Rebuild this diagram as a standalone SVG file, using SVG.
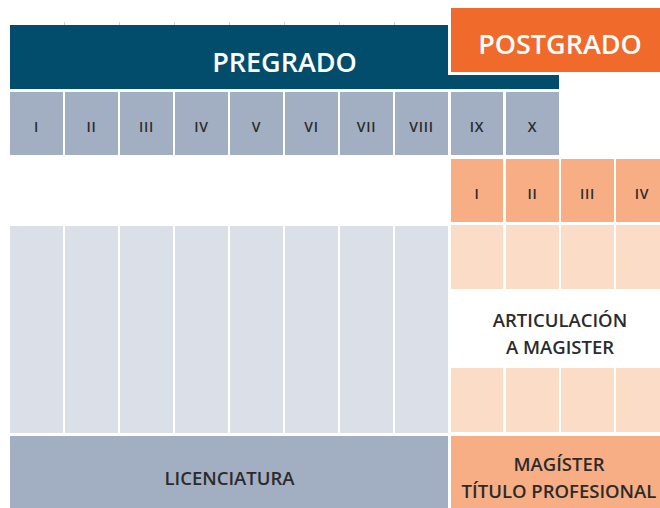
<svg xmlns="http://www.w3.org/2000/svg" width="660" height="508" viewBox="0 0 660 508">
<style>
.t{font-family:"Open Sans","Noto Sans","Liberation Sans",sans-serif;font-weight:600;text-anchor:middle}
.sem{fill:#a2afc2}
.psem{fill:#f7ae85}
.lt{fill:#dadfe8}
.plt{fill:#fbdcc6}
.lbl{font-size:14px;fill:#2b2b2b;letter-spacing:0.7px}
.big{font-size:27px;fill:#ffffff}
.mid{font-size:18.5px;fill:#2b2b2b}
.tick{stroke:#c9d2dc;stroke-width:1}
</style>
<rect width="660" height="508" fill="#ffffff"/>
<g id="ticks">
<line class="tick" x1="64.5" y1="22" x2="64.5" y2="25"/>
<line class="tick" x1="119.5" y1="22" x2="119.5" y2="25"/>
<line class="tick" x1="174.5" y1="22" x2="174.5" y2="25"/>
<line class="tick" x1="229.5" y1="22" x2="229.5" y2="25"/>
<line class="tick" x1="284.5" y1="22" x2="284.5" y2="25"/>
<line class="tick" x1="339.5" y1="22" x2="339.5" y2="25"/>
<line class="tick" x1="394.5" y1="22" x2="394.5" y2="25"/>
</g>
<g id="pregrado">
<rect x="10" y="25" width="549" height="64" fill="#024d6b"/>
<text class="t big" x="284.5" y="71.5">PREGRADO</text>
</g>
<g id="postgrado">
<rect x="448" y="5" width="215" height="70" fill="#ffffff"/>
<rect x="451" y="8" width="212" height="64" fill="#f06a2c"/>
<text class="t big" x="560" y="54">POSTGRADO</text>
</g>
<g id="semestres-pregrado">
<rect class="sem" x="10" y="92" width="53" height="63"/>
<rect class="sem" x="65" y="92" width="53" height="63"/>
<rect class="sem" x="120" y="92" width="53" height="63"/>
<rect class="sem" x="175" y="92" width="53" height="63"/>
<rect class="sem" x="230" y="92" width="53" height="63"/>
<rect class="sem" x="285" y="92" width="53" height="63"/>
<rect class="sem" x="340" y="92" width="53" height="63"/>
<rect class="sem" x="395" y="92" width="53" height="63"/>
<rect class="sem" x="451" y="92" width="52" height="63"/>
<rect class="sem" x="506" y="92" width="53" height="63"/>
<text class="t lbl" x="36.5" y="131.5">I</text>
<text class="t lbl" x="91.5" y="131.5">II</text>
<text class="t lbl" x="146.5" y="131.5">III</text>
<text class="t lbl" x="201.5" y="131.5">IV</text>
<text class="t lbl" x="256.5" y="131.5">V</text>
<text class="t lbl" x="311.5" y="131.5">VI</text>
<text class="t lbl" x="366.5" y="131.5">VII</text>
<text class="t lbl" x="421.5" y="131.5">VIII</text>
<text class="t lbl" x="477" y="131.5">IX</text>
<text class="t lbl" x="532.5" y="131.5">X</text>
</g>
<g id="semestres-postgrado">
<rect class="psem" x="451" y="159" width="52" height="63"/>
<rect class="psem" x="506" y="159" width="53" height="63"/>
<rect class="psem" x="561" y="159" width="53" height="63"/>
<rect class="psem" x="616" y="159" width="47" height="63"/>
<text class="t lbl" x="477" y="199">I</text>
<text class="t lbl" x="532.5" y="199">II</text>
<text class="t lbl" x="587.5" y="199">III</text>
<text class="t lbl" x="642" y="199">IV</text>
</g>
<g id="cuerpo-pregrado">
<rect class="lt" x="10" y="226" width="53" height="207"/>
<rect class="lt" x="65" y="226" width="53" height="207"/>
<rect class="lt" x="120" y="226" width="53" height="207"/>
<rect class="lt" x="175" y="226" width="53" height="207"/>
<rect class="lt" x="230" y="226" width="53" height="207"/>
<rect class="lt" x="285" y="226" width="53" height="207"/>
<rect class="lt" x="340" y="226" width="53" height="207"/>
<rect class="lt" x="395" y="226" width="53" height="207"/>
</g>
<g id="articulacion">
<rect class="plt" x="451" y="225" width="52" height="64"/>
<rect class="plt" x="506" y="225" width="53" height="64"/>
<rect class="plt" x="561" y="225" width="53" height="64"/>
<rect class="plt" x="616" y="225" width="47" height="64"/>
<rect class="plt" x="451" y="368" width="52" height="64"/>
<rect class="plt" x="506" y="368" width="53" height="64"/>
<rect class="plt" x="561" y="368" width="53" height="64"/>
<rect class="plt" x="616" y="368" width="47" height="64"/>
<text class="t mid" x="560" y="326.5">ARTICULACIÓN</text>
<text class="t mid" x="560" y="353.5">A MAGISTER</text>
</g>
<g id="licenciatura">
<rect x="10" y="436" width="438" height="72" fill="#a2afc2"/>
<text class="t mid" x="229.5" y="485">LICENCIATURA</text>
</g>
<g id="magister">
<rect x="451" y="436" width="212" height="72" fill="#f7ae85"/>
<text class="t mid" x="559" y="471">MAGÍSTER</text>
<text class="t mid" x="559" y="497.5">TÍTULO PROFESIONAL</text>
</g>
<g id="connectors"/>
</svg>
